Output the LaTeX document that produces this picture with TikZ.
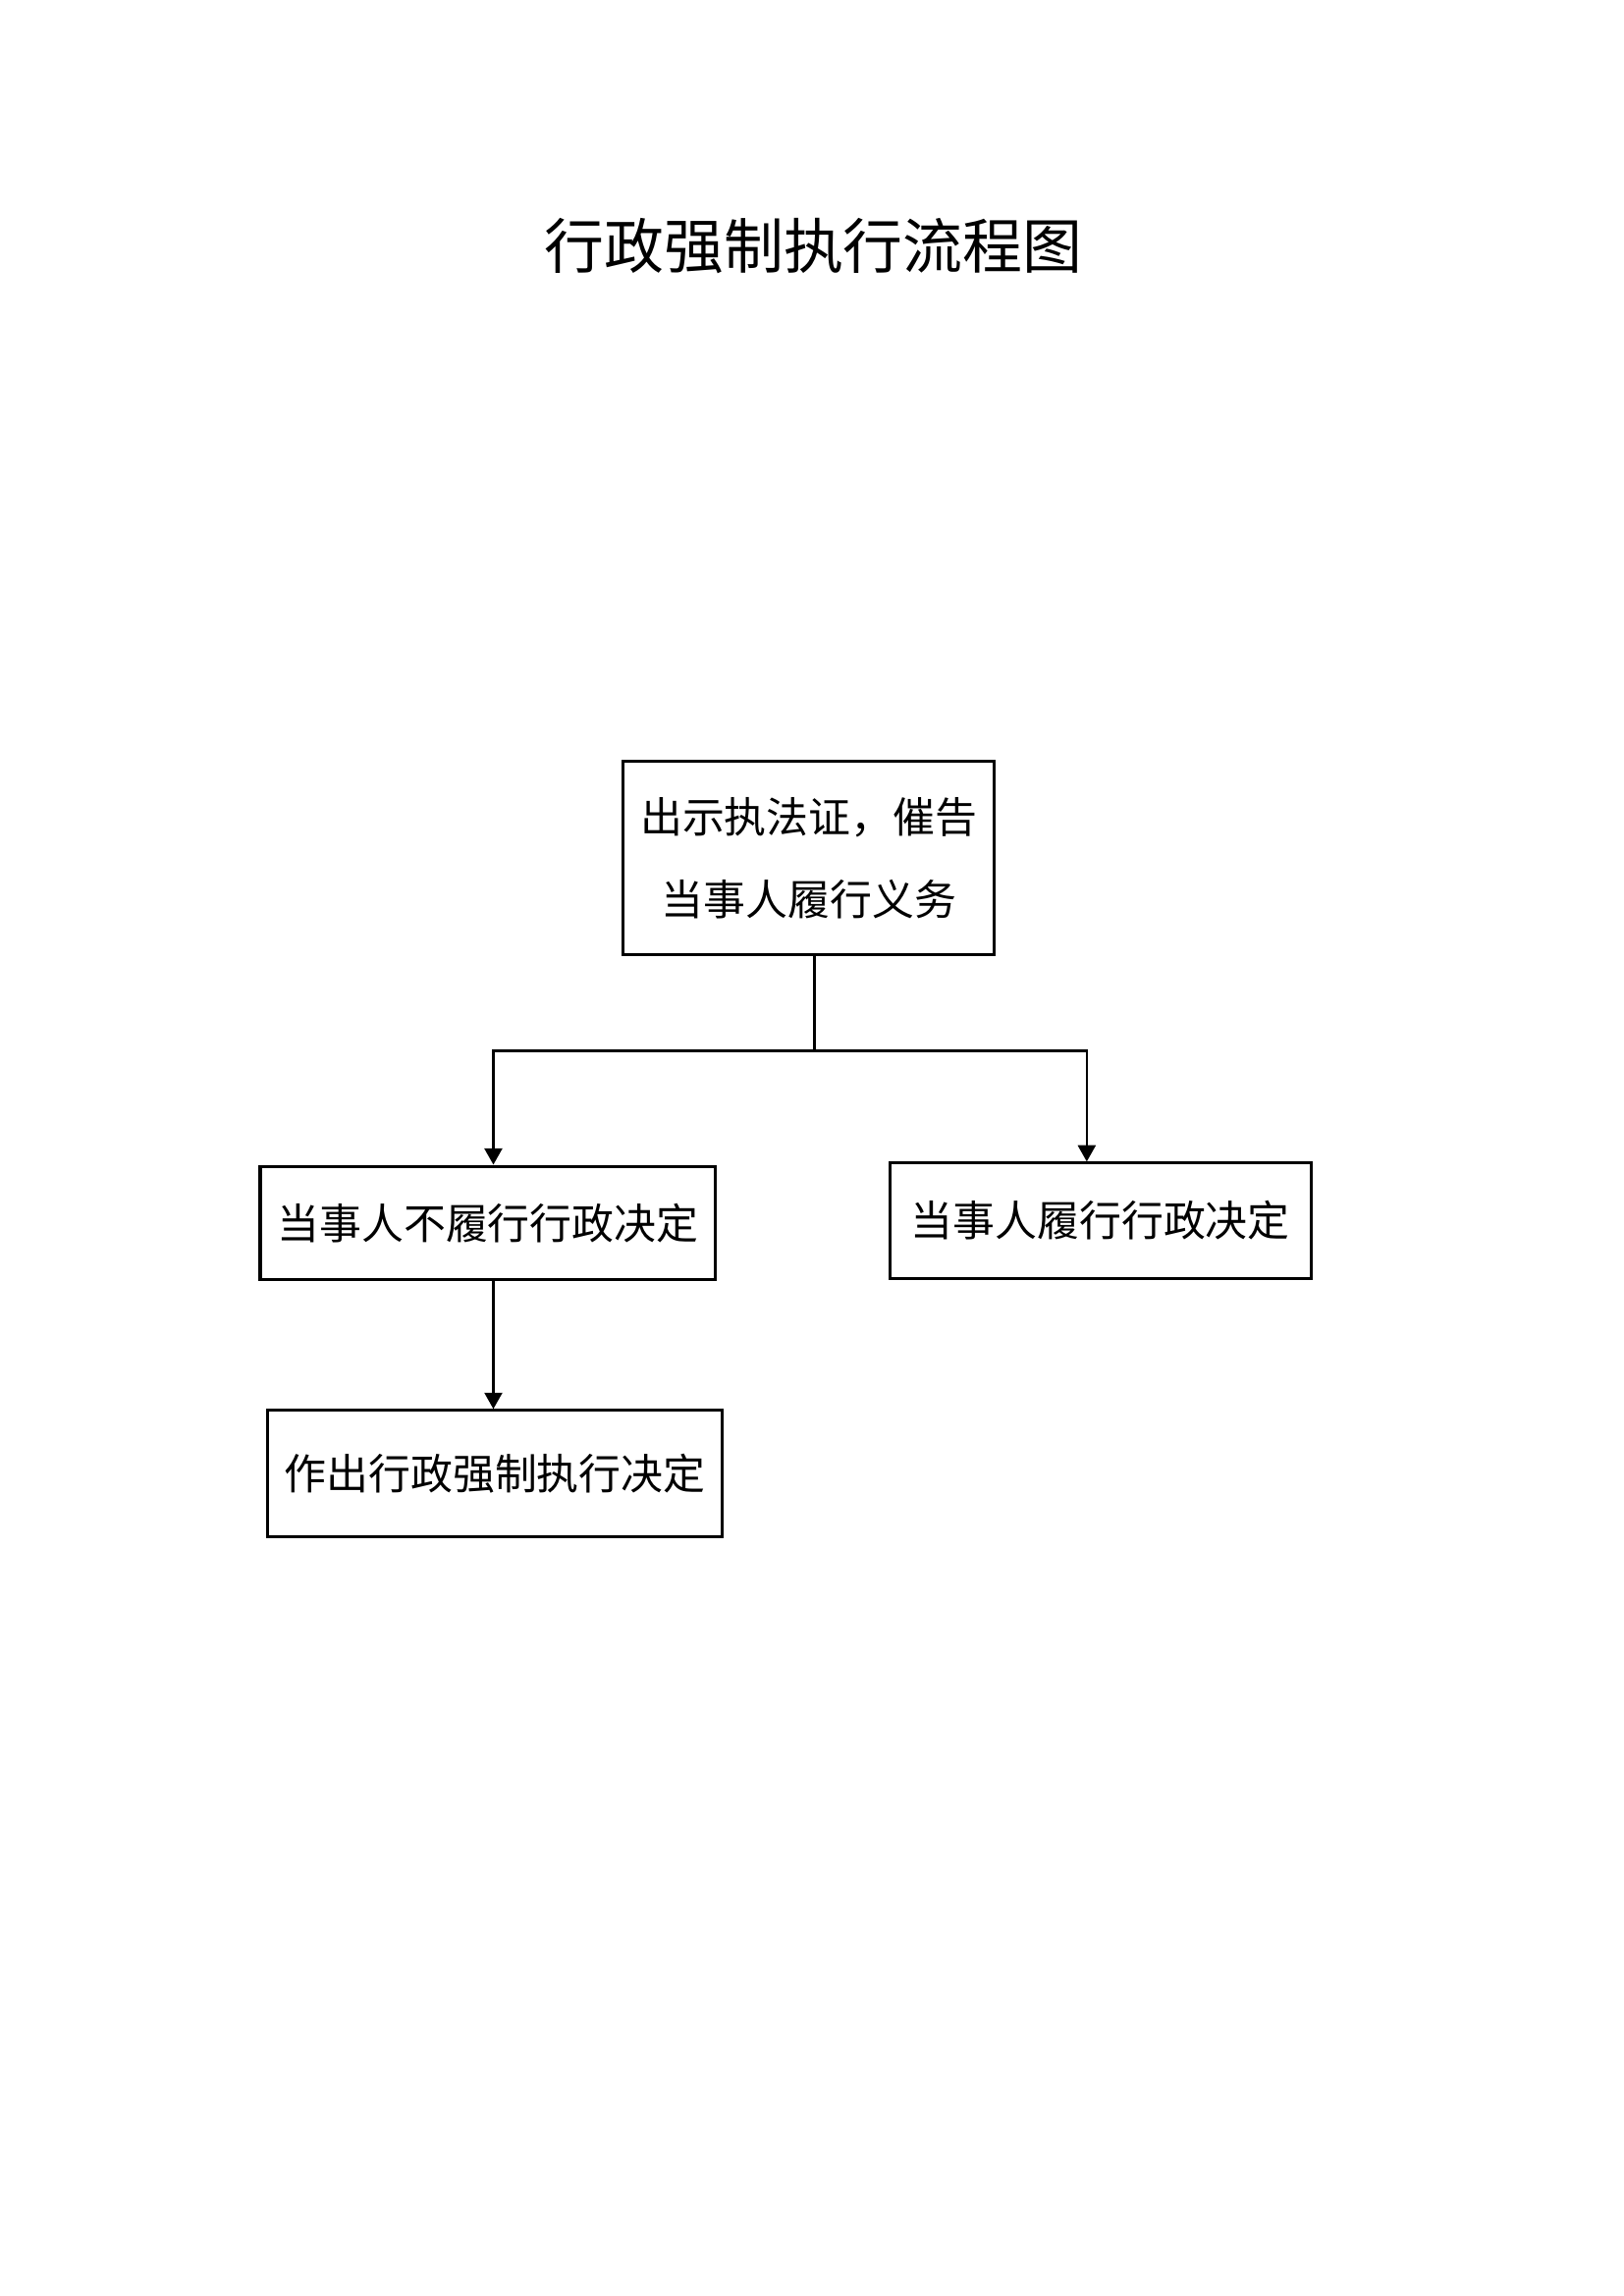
\documentclass[tikz,border=0pt]{standalone}
\usepackage{fontspec}
\setmainfont{Noto Sans CJK SC}
\usepackage{tikz}
\usetikzlibrary{arrows.meta}

\begin{document}
\begin{tikzpicture}
\tikzstyle{box} = [rectangle,draw=black,line width=1.1pt,
inner sep=0pt,align=center,font=\fontsize{15.5}{30.6}\selectfont]
\tikzstyle{link} = [-{Triangle[width=6.5pt,length=6pt]},line width=0.9pt]
\useasboundingbox (0,0) rectangle (21,-29.7);
\node (t) at (10.52, -3.18) {\fontsize{22}{26}\selectfont 行政强制执行流程图};
\node [box,minimum width=4.80cm,minimum height=2.50cm] (a) at (10.46, -11.10) {出示执法证，催告\\当事人履行义务};
\node [box,minimum width=5.89cm,minimum height=1.47cm] (b) at (6.31, -15.82) {当事人不履行行政决定};
\node [box,minimum width=5.45cm,minimum height=1.49cm] (c) at (14.23, -15.79) {当事人履行行政决定};
\node [box,minimum width=5.89cm,minimum height=1.63cm] (d) at (6.40, -19.06) {作出行政强制执行决定};
\coordinate (s) at ([xshift=2pt]a.south |- 0,-13.59);
\draw [line width=0.9pt] ([xshift=2pt]a.south) -- (s);
\draw [link] (s) -| ([xshift=2pt]b.north);
\draw [link] (s) -| ([xshift=-5pt]c.north);
\draw [link] ([xshift=2pt]b.south) -- ([xshift=2pt]b.south |- d.north);
\end{tikzpicture}
\end{document}
